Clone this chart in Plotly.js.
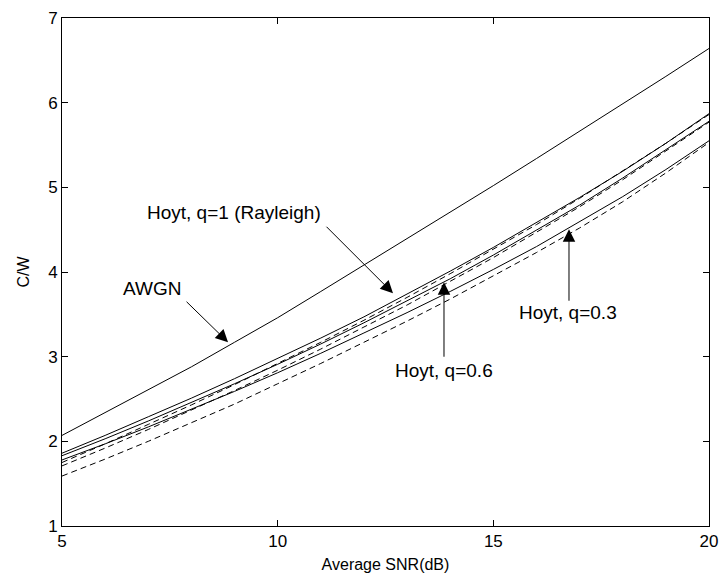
<!DOCTYPE html>
<html>
<head>
<meta charset="utf-8">
<script src="https://cdn.plot.ly/plotly-3.0.1.min.js"></script>
<style>html,body{margin:0;padding:0;background:#fff;}#chart{width:722px;height:582px;}</style>
</head>
<body>
<div id="chart"></div>
<script>
// SNR values (dB)
const snr = [5, 6, 7, 8, 9, 10, 11, 12, 13, 14, 15, 16, 17, 18, 19, 20];
// Capacity per unit bandwidth C/W
const awgn      = [2.07, 2.34, 2.60, 2.88, 3.17, 3.46, 3.77, 4.08, 4.39, 4.70, 5.02, 5.34, 5.66, 5.98, 6.31, 6.64];
const q1Solid   = [1.86, 2.07, 2.29, 2.51, 2.74, 2.98, 3.22, 3.47, 3.74, 4.01, 4.29, 4.58, 4.88, 5.19, 5.52, 5.87];
const q06Solid  = [1.83, 2.03, 2.24, 2.46, 2.68, 2.91, 3.15, 3.40, 3.66, 3.92, 4.20, 4.49, 4.79, 5.11, 5.44, 5.78];
const q03Solid  = [1.78, 1.97, 2.17, 2.38, 2.59, 2.81, 3.04, 3.28, 3.52, 3.77, 4.03, 4.30, 4.59, 4.89, 5.21, 5.55];
const q1Dash    = [1.75, 1.97, 2.20, 2.43, 2.67, 2.92, 3.17, 3.43, 3.70, 3.98, 4.27, 4.56, 4.87, 5.19, 5.52, 5.86];
const q06Dash   = [1.71, 1.92, 2.14, 2.37, 2.60, 2.84, 3.09, 3.35, 3.61, 3.89, 4.17, 4.47, 4.77, 5.09, 5.43, 5.77];
const q03Dash   = [1.59, 1.79, 2.00, 2.22, 2.44, 2.68, 2.92, 3.17, 3.42, 3.68, 3.95, 4.23, 4.52, 4.83, 5.17, 5.53];

const xTicks = [5, 10, 15, 20];
const yTicks = [1, 2, 3, 4, 5, 6, 7];

// Labels and arrow tips (data coordinates)
const labelTexts = ['AWGN', 'Hoyt, q=1 (Rayleigh)', 'Hoyt, q=0.6', 'Hoyt, q=0.3'];
const labelX = [7.087, 8.99, 13.856, 16.73];
const labelY = [3.808, 4.706, 2.838, 3.524];
const tipX = [8.85, 12.674, 13.856, 16.754];
const tipY = [3.17, 3.749, 3.879, 4.505];
// arrow tails relative to tips (pixels)
const tailDX = [-43, -68, 0, 0];
const tailDY = [-42, -68, 76, 73];

const solid = {color: '#000', width: 1};
const dashed = {color: '#000', width: 1, dash: '6px,4px'};
function tr(y, line) { return {x: snr, y: y, mode: 'lines', line: line, hoverinfo: 'skip', showlegend: false}; }

const data = [
  tr(awgn, solid), tr(q1Solid, solid), tr(q06Solid, solid), tr(q03Solid, solid),
  tr(q1Dash, dashed), tr(q06Dash, dashed), tr(q03Dash, dashed)
];

const annotations = [];
for (let i = 0; i < labelTexts.length; i++) {
  annotations.push({x: labelX[i], y: labelY[i], xref: 'x', yref: 'y', text: labelTexts[i],
    showarrow: false, font: {size: 19, color: '#000'}, xanchor: 'center', yanchor: 'middle'});
  annotations.push({x: tipX[i], y: tipY[i], xref: 'x', yref: 'y', text: '',
    showarrow: true, ax: tailDX[i], ay: tailDY[i], arrowhead: 2, arrowsize: 2.5, arrowwidth: 1, arrowcolor: '#000'});
}

const axisCommon = {
  showline: true, linecolor: '#000', linewidth: 1, mirror: 'ticks',
  ticks: 'inside', ticklen: 6, tickcolor: '#000', tickwidth: 1,
  showgrid: false, zeroline: false, tickfont: {size: 17, color: '#000'}
};

const layout = {
  width: 722, height: 582,
  margin: {l: 62, r: 13, t: 18, b: 56, pad: 0},
  paper_bgcolor: '#fff', plot_bgcolor: '#fff',
  font: {family: 'Liberation Sans, Arial, Helvetica, sans-serif', color: '#000'},
  xaxis: Object.assign({}, axisCommon, {range: [5, 20], tickvals: xTicks, ticktext: xTicks.map(String),
    title: {text: 'Average SNR(dB)', font: {size: 16}, standoff: 8}}),
  yaxis: Object.assign({}, axisCommon, {range: [1, 7], tickvals: yTicks, ticktext: yTicks.map(String),
    title: {text: 'C/W', font: {size: 16}, standoff: 14}}),
  annotations: annotations
};

Plotly.newPlot('chart', data, layout, {displayModeBar: false, staticPlot: true});
</script>
</body>
</html>
